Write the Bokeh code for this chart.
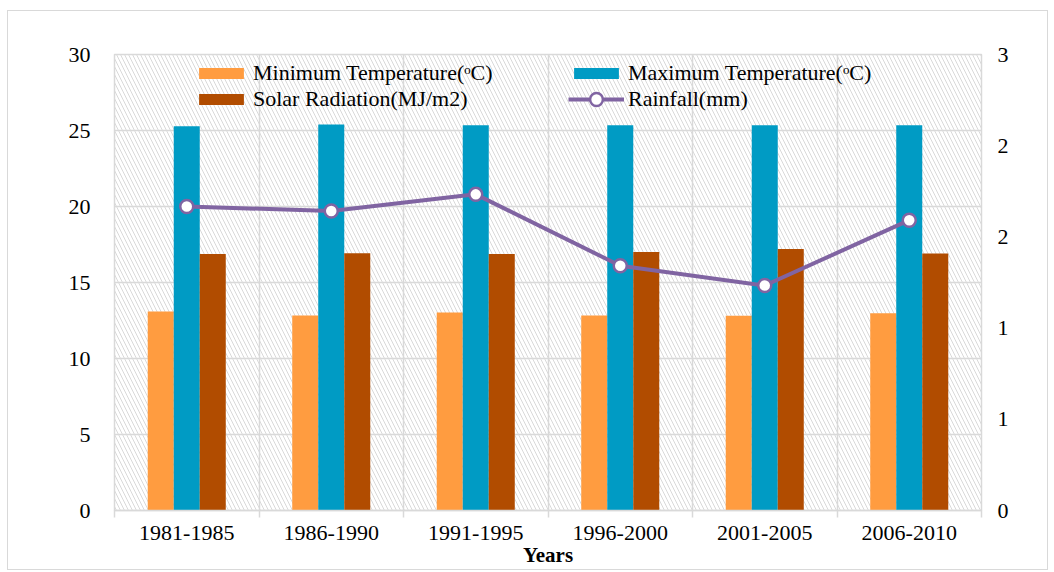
from bokeh.plotting import figure
from bokeh.models import (Range1d, LinearAxis, FixedTicker, NumeralTickFormatter,
                          Legend, LegendItem, BoxAnnotation, ColumnDataSource)
from bokeh.transform import dodge
from bokeh.embed import file_html
from bokeh.resources import INLINE

periods = ["1981-1985", "1986-1990", "1991-1995", "1996-2000", "2001-2005", "2006-2010"]
min_temp = [13.09, 12.83, 13.02, 12.83, 12.81, 12.98]
max_temp = [25.28, 25.39, 25.35, 25.35, 25.35, 25.35]
solar_rad = [16.88, 16.93, 16.88, 17.00, 17.21, 16.90]
rainfall = [2.00, 1.97, 2.08, 1.61, 1.48, 1.91]
left_ticks = [0, 5, 10, 15, 20, 25, 30]
right_ticks = [0, 0.6, 1.2, 1.8, 2.4, 3.0]

FONT = "Liberation Serif"
GRID = "#d9d9d9"
C_MIN, C_MAX, C_SOL, C_RAIN = "#FF9C40", "#009BC4", "#B14C00", "#8064A2"

xc = [i + 0.5 for i in range(len(periods))]
src = ColumnDataSource(dict(x=xc, period=periods, tmin=min_temp, tmax=max_temp,
                            srad=solar_rad, rain=rainfall))

FH = 456
p = figure(frame_width=867, frame_height=FH,
           x_range=Range1d(0, len(periods)), y_range=Range1d(0, 30),
           output_backend="svg", toolbar_location=None,
           min_border_left=106, min_border_right=66, min_border_top=43, min_border_bottom=10)
p.margin = (10, 0, 0, 7)
p.styles = {"border": "1px solid #d9d9d9"}
p.extra_y_ranges = {"rain": Range1d(0, 3)}

# hatched plot background
p.add_layout(BoxAnnotation(fill_color=None, fill_alpha=0, line_color=None,
                           hatch_pattern="left_diagonal_line", hatch_color="#d9d9d9",
                           hatch_weight=1, hatch_scale=8, level="image"))
p.outline_line_color = GRID
p.outline_line_width = 1.5

# x axis: labels at centers, ticks at boundaries
xa = p.xaxis[0]
xa.ticker = FixedTicker(ticks=xc, minor_ticks=list(range(len(periods) + 1)))
xa.major_label_overrides = {x: lab for x, lab in zip(xc, periods)}
xa.major_tick_line_color = None
xa.minor_tick_line_color = GRID
xa.minor_tick_line_width = 1.5
xa.minor_tick_out = 7
xa.minor_tick_in = 0
xa.axis_line_color = GRID
xa.axis_line_width = 1.5
xa.major_label_standoff = 8
xa.major_label_text_font = FONT
xa.major_label_text_font_size = "22px"
xa.major_label_text_color = "black"
xa.axis_label = "Years"
xa.axis_label_text_font = FONT
xa.axis_label_text_font_size = "21px"
xa.axis_label_text_font_style = "bold"
xa.axis_label_text_color = "black"
xa.axis_label_standoff = 0

p.xgrid.grid_line_color = None
p.xgrid.minor_grid_line_color = GRID
p.xgrid.minor_grid_line_width = 1.5
p.ygrid.ticker = FixedTicker(ticks=left_ticks)
p.ygrid.grid_line_color = GRID
p.ygrid.grid_line_width = 1.5

ya = p.yaxis[0]
ya.ticker = FixedTicker(ticks=left_ticks)
ya.axis_line_color = None
ya.major_tick_line_color = None
ya.minor_tick_line_color = None
ya.major_label_standoff = 18
ya.major_label_text_font = FONT
ya.major_label_text_font_size = "22px"
ya.major_label_text_color = "black"

ra = LinearAxis(y_range_name="rain", ticker=FixedTicker(ticks=right_ticks),
                formatter=NumeralTickFormatter(format="0"))
ra.axis_line_color = None
ra.major_tick_line_color = None
ra.minor_tick_line_color = None
ra.major_label_standoff = 10
ra.major_label_text_font = FONT
ra.major_label_text_font_size = "22px"
ra.major_label_text_color = "black"
p.add_layout(ra, "right")

w = 0.18
r_min = p.vbar(x=dodge("x", -w), top="tmin", width=w, source=src, fill_color=C_MIN, line_color=None)
r_max = p.vbar(x="x", top="tmax", width=w, source=src, fill_color=C_MAX, line_color=None)
r_sol = p.vbar(x=dodge("x", w), top="srad", width=w, source=src, fill_color=C_SOL, line_color=None)
r_line = p.line("x", "rain", source=src, y_range_name="rain", line_color=C_RAIN, line_width=4)
r_pts = p.scatter("x", "rain", source=src, y_range_name="rain", size=13, marker="circle",
                  fill_color="white", line_color=C_RAIN, line_width=2.5)


def style_legend(lg, gh):
    lg.background_fill_alpha = 0
    lg.border_line_color = None
    lg.padding = 0
    lg.margin = 0
    lg.spacing = 0
    lg.glyph_width = 56
    lg.glyph_height = gh
    lg.label_standoff = 4
    lg.label_width = 315
    lg.label_text_font = FONT
    lg.label_text_font_size = "22px"
    lg.label_text_color = "black"


legend = Legend(items=[
    LegendItem(label="Minimum Temperature(ᵒC)", renderers=[r_min]),
    LegendItem(label="Solar Radiation(MJ/m2)", renderers=[r_sol]),
    LegendItem(label="Maximum Temperature(ᵒC)", renderers=[r_max]),
], orientation="vertical", nrows=2, location=(79, FH - 58))
style_legend(legend, 14)
p.add_layout(legend, "center")

legend2 = Legend(items=[LegendItem(label="Rainfall(mm)", renderers=[r_line, r_pts])],
                 location=(79 + 375, FH - 61))
style_legend(legend2, 32)
p.add_layout(legend2, "center")

open("out.html", "w").write(file_html(p, INLINE))
